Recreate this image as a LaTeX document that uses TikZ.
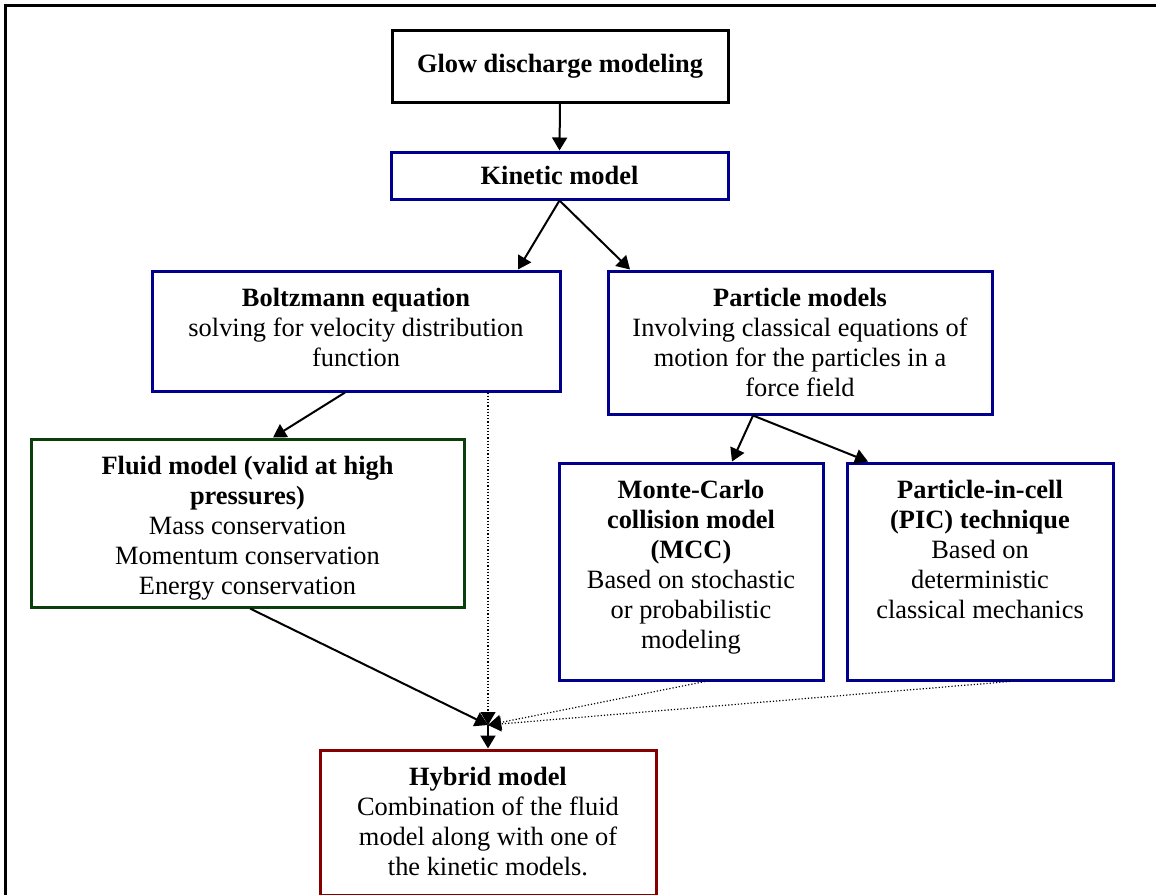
\documentclass[tikz,border=0pt]{standalone}
\usepackage{fontspec}
\setmainfont{Liberation Serif}
\usepackage{tikz}
\usetikzlibrary{arrows.meta,positioning}

\definecolor{boxblue}{RGB}{0,0,140}
\definecolor{boxgreen}{RGB}{12,62,12}
\definecolor{boxred}{RGB}{135,0,0}

\newcommand{\boxlines}[1]{\begin{tabular}[t]{@{}c@{}}#1\end{tabular}}

\tikzset{
  box/.style={draw=boxblue, line width=1.5pt, inner xsep=2pt,
    font=\fontsize{13.2}{15}\selectfont},
  topbox/.style={box, text height=9pt, inner ysep=8.85pt},
  arr/.style={-{Triangle[length=6.5pt,width=7.5pt]}, line width=1pt},
  dotarr/.style={arr, line width=0.6pt, densely dotted},
}

\begin{document}
\begin{tikzpicture}[x=0.5pt, y=-0.5pt]
\useasboundingbox (0,0) rectangle (1156,894);
\draw[line width=1.5pt] (5,900) -- (5,5) -- (1160,5);

\node[box, draw=black, minimum width=168pt, minimum height=36pt] (glow) at (560,66)
  {\textbf{Glow discharge modeling}};
\node[box, minimum width=168.5pt, minimum height=23.5pt] (kinetic) at (559.5,175.5)
  {\textbf{Kinetic model}};
\node[topbox, minimum width=204pt, text depth=33.3pt] (boltz) at (356,331)
  {\boxlines{\textbf{Boltzmann equation}\\ solving for velocity distribution\\ function}};
\node[topbox, minimum width=192pt, text depth=44.8pt] (particle) at (800,342.5)
  {\boxlines{\textbf{Particle models}\\ Involving classical equations of\\ motion for the particles in a\\ force field}};
\node[topbox, draw=boxgreen, minimum width=216.5pt, text depth=57.3pt] (fluid) at (247.5,523)
  {\boxlines{\textbf{Fluid model (valid at high}\\ \textbf{pressures)}\\ Mass conservation\\ Momentum conservation\\ Energy conservation}};
\node[topbox, minimum width=132pt, text depth=81.8pt] (mcc) at (691,571.5)
  {\boxlines{\textbf{Monte-Carlo}\\ \textbf{collision model}\\ \textbf{(MCC)}\\ Based on stochastic\\ or probabilistic\\ modeling}};
\node[topbox, minimum width=133pt, text depth=81.8pt] (pic) at (980,571.5)
  {\boxlines{\textbf{Particle-in-cell}\\ \textbf{(PIC) technique}\\ Based on\\ deterministic\\ classical mechanics}};
\node[topbox, draw=boxred, minimum width=168pt, text depth=45.8pt] (hybrid) at (488,822.5)
  {\boxlines{\textbf{Hybrid model}\\ Combination of the fluid\\ model along with one of\\ the kinetic models.}};
\coordinate (hub) at (488,725);

\draw[arr] (glow.south) -- (kinetic.north);
\draw[arr] (kinetic.south) -- (boltz.north -| 518,0);
\draw[arr] (kinetic.south) -- (particle.north -| 630,0);
\draw[arr] (boltz.south -| 345,0) -- (fluid.north -| 273,0);
\draw[arr] (particle.south -| 753,0) -- (mcc.north -| 732,0);
\draw[arr] (particle.south -| 753,0) -- (pic.north -| 868,0);
\draw[arr] (fluid.south -| 250,0) -- (hub);
\draw[dotarr] (boltz.south -| 488,0) -- (hub);
\draw[dotarr] (mcc.south -| 705,0) -- (hub);
\draw[dotarr] (pic.south -| 1010,0) -- (hub);
\draw[arr] (hub) -- (hybrid.north);
\end{tikzpicture}
\end{document}
